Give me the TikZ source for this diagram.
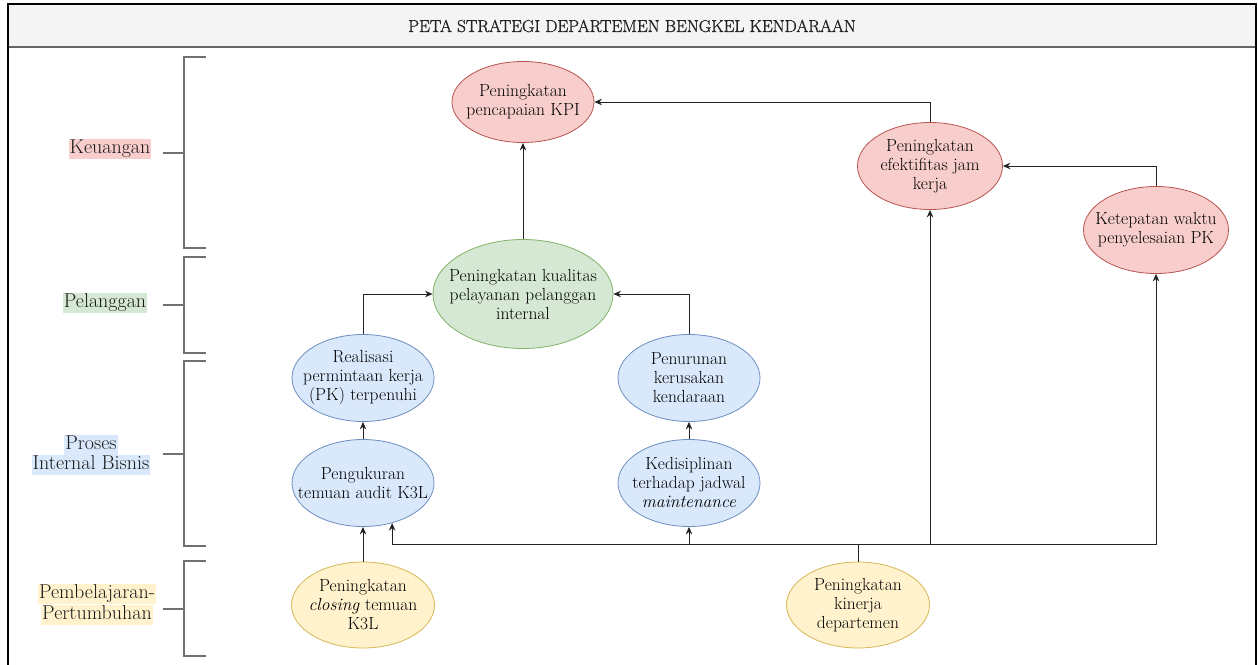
\documentclass[tikz,border=0pt]{standalone}
\usepackage{fontspec}
\newfontfamily\titlefont{Latin Modern Roman}[FakeBold=1.2]
\usetikzlibrary{arrows.meta,shapes.geometric,calc}
\definecolor{redfill}{HTML}{F8CECC}
\definecolor{redline}{HTML}{B85450}
\definecolor{greenfill}{HTML}{D5E8D4}
\definecolor{greenline}{HTML}{82B366}
\definecolor{bluefill}{HTML}{DAE8FC}
\definecolor{blueline}{HTML}{6C8EBF}
\definecolor{yellowfill}{HTML}{FFF2CC}
\definecolor{yellowline}{HTML}{D6B656}
\definecolor{titlefill}{HTML}{F4F4F4}
\definecolor{titletext}{HTML}{222222}
\definecolor{bracketgray}{HTML}{707070}
\definecolor{wire}{HTML}{222222}
\tikzset{
  goal/.style={ellipse, draw, line width=0.8pt, inner sep=0pt,
    minimum width=142pt, minimum height=87pt},
  redgoal/.style={goal, fill=redfill, draw=redline},
  greengoal/.style={goal, fill=greenfill, draw=greenline},
  bluegoal/.style={goal, fill=bluefill, draw=blueline},
  yellowgoal/.style={goal, fill=yellowfill, draw=yellowline},
  gtxt/.style={inner sep=0pt, align=center, text=black,
    font=\fontsize{17.5}{19}\selectfont},
  conn/.style={draw=wire, line width=1pt},
  arr/.style={conn, -{Stealth[length=7.5pt,width=6.5pt]}},
  brk/.style={draw=bracketgray, line width=1.3pt},
  lab/.style={inner xsep=1pt, inner ysep=0.5pt, text height=14pt, text depth=5pt,
    font=\fontsize{20}{21}\selectfont, text=black!90},
}
\begin{document}
\begin{tikzpicture}[x=1pt,y=-1pt]
\useasboundingbox (0,0) rectangle (1258,664);
% frame and title band
\fill[titlefill] (8,4) rectangle (1256,47);
\draw[draw=gray!80!black, line width=1.6pt] (8,47) -- (1256,47);
\draw[black, line width=1.6pt] (8,672) -- (8,4) -- (1256,4) -- (1256,672);
\node[font=\titlefont\fontsize{17.2}{19}\selectfont, text=titletext] (title) at (632,26)
  {PETA STRATEGI DEPARTEMEN BENGKEL KENDARAAN};

% perspective labels
\node[lab, fill=redfill] (klab) at (110,149) {Keuangan};
\node[lab, fill=greenfill] (plab) at (105,303) {Pelanggan};
\node[lab, fill=bluefill] (ilab1) at (91,444.5) {Proses};
\node[lab, fill=bluefill] (ilab2) at (91,465) {Internal Bisnis};
\node[lab, fill=yellowfill] (llab1) at (97,593.5) {Pembelajaran-};
\node[lab, fill=yellowfill] (llab2) at (97,614.5) {Pertumbuhan};

% brackets
\draw[brk] (206,57) -- (184,57) -- (184,248) -- (206,248);
\draw[brk] (163,153) -- (184,153);
\draw[brk] (206,257) -- (184,257) -- (184,353) -- (206,353);
\draw[brk] (163,305) -- (184,305);
\draw[brk] (206,361) -- (184,361) -- (184,546) -- (206,546);
\draw[brk] (163,454) -- (184,454);
\draw[brk] (206,561) -- (184,561) -- (184,656) -- (206,656);
\draw[brk] (163,609) -- (184,609);

% goals (ellipse of fixed size, text laid on top)
\node[redgoal, minimum height=81pt] (kpi) at (523,102) {};
\node[gtxt] (kpit) at (kpi.center) {Peningkatan\\pencapaian KPI};
\node[redgoal, minimum width=145pt] (efek) at (930,166) {};
\node[gtxt] (efekt) at (efek.center) {Peningkatan\\efektifitas jam\\kerja};
\node[redgoal, minimum width=145pt] (tepat) at (1156,230) {};
\node[gtxt] (tepatt) at (tepat.center) {Ketepatan waktu\\penyelesaian PK};
\node[greengoal, minimum width=180pt, minimum height=109pt] (pel) at (523,294) {};
\node[gtxt] (pelt) at (pel.center) {Peningkatan kualitas\\pelayanan pelanggan\\internal};
\node[bluegoal] (real) at (363,378) {};
\node[gtxt] (realt) at (real.center) {Realisasi\\permintaan kerja\\(PK) terpenuhi};
\node[bluegoal] (ukur) at (363,483) {};
\node[gtxt] (ukurt) at (ukur.center) {Pengukuran\\temuan audit K3L};
\node[bluegoal] (turun) at (689,378) {};
\node[gtxt] (turunt) at (turun.center) {Penurunan\\kerusakan\\kendaraan};
\node[bluegoal] (disip) at (689,483) {};
\node[gtxt] (disipt) at (disip.center) {Kedisiplinan\\terhadap jadwal\\\textit{maintenance}};
\node[yellowgoal, minimum width=143pt, minimum height=86pt] (close) at (363,605) {};
\node[gtxt] (closet) at (close.center) {Peningkatan\\\textit{closing} temuan\\K3L};
\node[yellowgoal, minimum width=143pt, minimum height=86pt] (kin) at (858,605) {};
\node[gtxt] (kint) at (kin.center) {Peningkatan\\kinerja\\departemen};

% connectors
\draw[arr] (pel.north) -- (kpi.south);
\draw[arr] (efek.north) |- (kpi.east);
\draw[arr] (tepat.north) |- (efek.east);
\draw[arr] (real.north) |- (pel.west);
\draw[arr] (turun.north) |- (pel.east);
\draw[arr] (ukur.north) -- (real.south);
\draw[arr] (disip.north) -- (turun.south);
\draw[arr] (close.north) -- (ukur.south);
\coordinate (bus) at (858,544);
\draw[conn] (kin.north) -- (bus);
\draw[arr] (bus) -| (ukur.-54);
\draw[arr] (bus) -| (disip.south);
\draw[arr] (bus) -| (efek.south);
\draw[arr] (bus) -| (tepat.south);
\end{tikzpicture}
\end{document}
